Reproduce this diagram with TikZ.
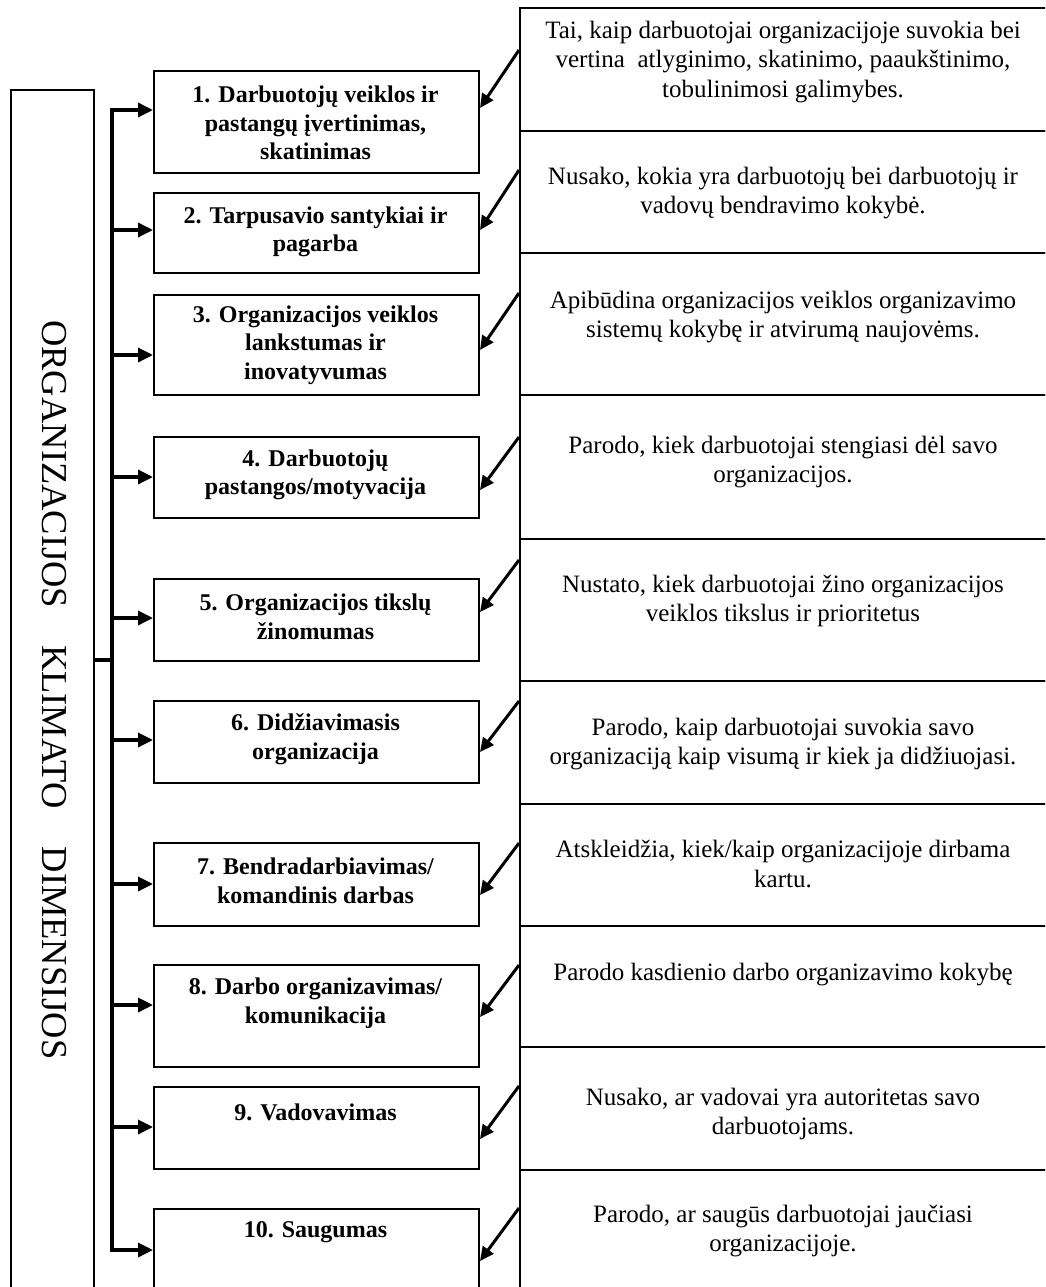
\documentclass[tikz,border=0pt]{standalone}
\usepackage{fontspec}
\setmainfont{Liberation Serif}
\usetikzlibrary{arrows.meta}
\begin{document}
\begin{tikzpicture}[x=1pt,y=-1pt,
  dimbox/.style={draw, line width=2pt, minimum width=325pt, inner sep=0pt, anchor=north west},
  cellbox/.style={draw, line width=2pt, minimum width=528pt, inner sep=0pt, anchor=north west},
  dimtext/.style={align=center, inner sep=0pt, font=\fontsize{24}{28.5}\selectfont\bfseries},
  celltext/.style={align=center, inner sep=0pt, font=\fontsize{25}{29.5}\selectfont},
  busline/.style={line width=3.6pt},
  harrow/.style={line width=3.4pt, -{Triangle[length=15pt,width=14pt]}},
  darrow/.style={line width=3pt, -{Triangle[length=14pt,width=13pt]}}
]
\useasboundingbox (0,0) rectangle (1045,1287);
\clip (0,0) rectangle (1045,1287);

% left title box
\node[draw, line width=2pt, minimum width=83pt, minimum height=1220pt, inner sep=0pt, anchor=north west] (lb) at (10,89) {};
\node[rotate=-90, inner sep=0pt, font=\fontsize{36.5}{40}\selectfont] (title) at (54,690)
  {ORGANIZACIJOS\hspace{37pt}KLIMATO\hspace{38pt}DIMENSIJOS};

% dimension boxes
\node[dimbox, minimum height=102pt] (b1) at (153,70) {};
\node[dimbox, minimum height=80pt] (b2) at (153,192) {};
\node[dimbox, minimum height=100pt] (b3) at (153,294) {};
\node[dimbox, minimum height=81pt] (b4) at (153,436) {};
\node[dimbox, minimum height=82pt] (b5) at (153,578) {};
\node[dimbox, minimum height=82pt] (b6) at (153,700) {};
\node[dimbox, minimum height=83pt] (b7) at (153,842) {};
\node[dimbox, minimum height=102pt] (b8) at (153,964) {};
\node[dimbox, minimum height=82pt] (b9) at (153,1086) {};
\node[dimbox, minimum height=100pt] (b10) at (153,1208) {};

\node[dimtext] (t1) at (315.5,123) {1. Darbuotojų veiklos ir\\pastangų įvertinimas,\\skatinimas};
\node[dimtext] (t2) at (315.5,232) {2. Tarpusavio santykiai ir\\pagarba};
\node[dimtext] (t3) at (315.5,345) {3. Organizacijos veiklos\\lankstumas ir\\inovatyvumas};
\node[dimtext] (t4) at (315.5,475) {4. Darbuotojų\\pastangos/motyvacija};
\node[dimtext] (t5) at (315.5,617) {5. Organizacijos tikslų\\žinomumas};
\node[dimtext] (t6) at (315.5,739) {6. Didžiavimasis\\organizacija};
\node[dimtext] (t7) at (315.5,881) {7. Bendradarbiavimas/\\komandinis darbas};
\node[dimtext] (t8) at (315.5,1003) {8. Darbo organizavimas/\\komunikacija};
\node[dimtext] (t9) at (315.5,1112) {9. Vadovavimas};
\node[dimtext] (t10) at (315.5,1232) {10. Saugumas};

% description cells
\node[cellbox, minimum height=123pt] (r1) at (519,7) {};
\node[cellbox, minimum height=122pt] (r2) at (519,130) {};
\node[cellbox, minimum height=142pt] (r3) at (519,252) {};
\node[cellbox, minimum height=144pt] (r4) at (519,394) {};
\node[cellbox, minimum height=142pt] (r5) at (519,538) {};
\node[cellbox, minimum height=123pt] (r6) at (519,680) {};
\node[cellbox, minimum height=122pt] (r7) at (519,803) {};
\node[cellbox, minimum height=121pt] (r8) at (519,925) {};
\node[cellbox, minimum height=123pt] (r9) at (519,1046) {};
\node[cellbox, minimum height=140pt] (r10) at (519,1169) {};

\node[celltext] (d1) at (783,62) {Tai, kaip darbuotojai organizacijoje suvokia bei\\vertina\ \ atlyginimo, skatinimo, paaukštinimo,\\tobulinimosi galimybes.};
\node[celltext] (d2) at (783,193) {Nusako, kokia yra darbuotojų bei darbuotojų ir\\vadovų bendravimo kokybė.};
\node[celltext] (d3) at (783,317) {Apibūdina organizacijos veiklos organizavimo\\sistemų kokybę ir atvirumą naujovėms.};
\node[celltext] (d4) at (783,462) {Parodo, kiek darbuotojai stengiasi dėl savo\\organizacijos.};
\node[celltext] (d5) at (783,601) {Nustato, kiek darbuotojai žino organizacijos\\veiklos tikslus ir prioritetus};
\node[celltext] (d6) at (783,744) {Parodo, kaip darbuotojai suvokia savo\\organizaciją kaip visumą ir kiek ja didžiuojasi.};
\node[celltext] (d7) at (783,864) {Atskleidžia, kiek/kaip organizacijoje dirbama\\kartu.};
\node[celltext] (d8) at (783,975) {Parodo kasdienio darbo organizavimo kokybę};
\node[celltext] (d9) at (783,1114) {Nusako, ar vadovai yra autoritetas savo\\darbuotojams.};
\node[celltext] (d10) at (783,1231) {Parodo, ar saugūs darbuotojai jaučiasi\\organizacijoje.};

% bus and trunk
\coordinate (tr) at (112,660);
\coordinate (bustop) at (112,110);
\coordinate (busbot) at (112,1250);
\draw[busline] (tr -| lb.east) -- (tr);
\draw[busline, line cap=rect] (bustop) -- (busbot);

\foreach \i/\y in {1/110,2/230,3/355,4/477,5/618,6/740,7/884,8/1005,9/1127,10/1250}{
  \coordinate (a\i) at (112,\y);
  \draw[harrow] (a\i) -- (a\i -| b\i.west);
}

% diagonal arrows from description cells
\foreach \i/\ys/\ye in {1/50/108,2/170/230,3/293/350,4/437/490,5/560/612,6/701/752,7/843/895,8/965/1017,9/1086/1139,10/1208/1261}{
  \coordinate (s\i) at (519,\ys);
  \coordinate (e\i) at (478,\ye);
  \draw[darrow] (s\i) -- (e\i -| b\i.east);
}
\end{tikzpicture}
\end{document}
